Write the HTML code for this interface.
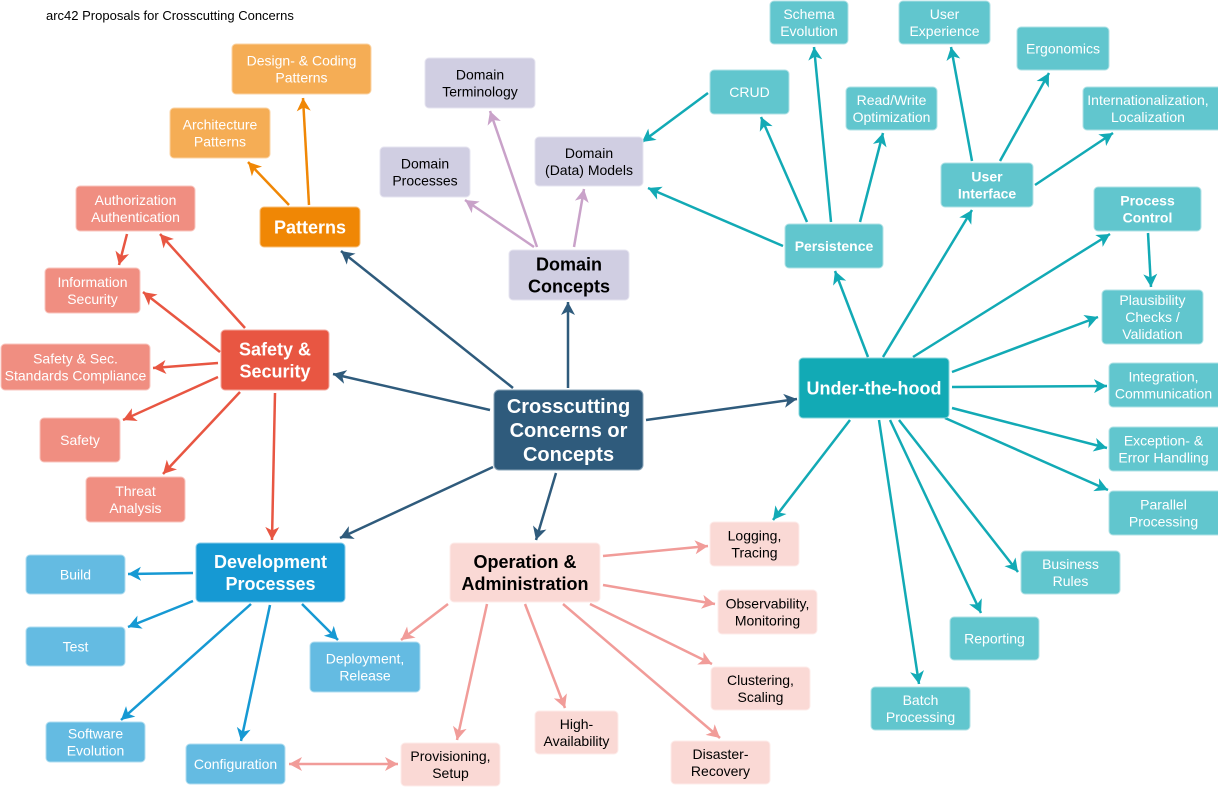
<!DOCTYPE html>
<html>
<head>
<meta charset="utf-8">
<style>
html,body{margin:0;padding:0;background:#fff;}
svg{display:block;}
text{font-family:"Liberation Sans",Arial,sans-serif;}
.t{font-size:14px;text-anchor:middle;fill:#fff;}
.k{font-size:14px;text-anchor:middle;fill:#000;}
.tb{font-size:14px;text-anchor:middle;fill:#fff;font-weight:bold;}
.m{font-size:18px;text-anchor:middle;fill:#fff;font-weight:bold;}
.mk{font-size:18px;text-anchor:middle;fill:#000;font-weight:bold;}
</style>
</head>
<body>
<svg width="1218" height="787" viewBox="0 0 1218 787" xmlns="http://www.w3.org/2000/svg">
<defs>
<marker id="aC" markerUnits="userSpaceOnUse" markerWidth="18" markerHeight="18" viewBox="-15 -9 18 18" refX="0" refY="0" orient="auto"><path d="M0,0 L-13,-7 L-9.5,0 L-13,7 Z" fill="#2f5b7c"/></marker>
<marker id="aP" markerUnits="userSpaceOnUse" markerWidth="18" markerHeight="18" viewBox="-15 -9 18 18" refX="0" refY="0" orient="auto"><path d="M0,0 L-13,-7 L-9.5,0 L-13,7 Z" fill="#f08705"/></marker>
<marker id="aD" markerUnits="userSpaceOnUse" markerWidth="18" markerHeight="18" viewBox="-15 -9 18 18" refX="0" refY="0" orient="auto"><path d="M0,0 L-13,-7 L-9.5,0 L-13,7 Z" fill="#c9a2c9"/></marker>
<marker id="aS" markerUnits="userSpaceOnUse" markerWidth="18" markerHeight="18" viewBox="-15 -9 18 18" refX="0" refY="0" orient="auto"><path d="M0,0 L-13,-7 L-9.5,0 L-13,7 Z" fill="#e85642"/></marker>
<marker id="aV" markerUnits="userSpaceOnUse" markerWidth="18" markerHeight="18" viewBox="-15 -9 18 18" refX="0" refY="0" orient="auto"><path d="M0,0 L-13,-7 L-9.5,0 L-13,7 Z" fill="#1699d3"/></marker>
<marker id="aO" markerUnits="userSpaceOnUse" markerWidth="18" markerHeight="18" viewBox="-15 -9 18 18" refX="0" refY="0" orient="auto"><path d="M0,0 L-13,-7 L-9.5,0 L-13,7 Z" fill="#f19c99"/></marker>
<marker id="aOs" markerUnits="userSpaceOnUse" markerWidth="18" markerHeight="18" viewBox="-15 -9 18 18" refX="0" refY="0" orient="auto-start-reverse"><path d="M0,0 L-13,-7 L-9.5,0 L-13,7 Z" fill="#f19c99"/></marker>
<marker id="aU" markerUnits="userSpaceOnUse" markerWidth="18" markerHeight="18" viewBox="-15 -9 18 18" refX="0" refY="0" orient="auto"><path d="M0,0 L-13,-7 L-9.5,0 L-13,7 Z" fill="#12aab5"/></marker>
</defs>

<text x="46" y="20" style="font-size:13px;fill:#000;">arc42 Proposals for Crosscutting Concerns</text>

<!-- edges -->
<g stroke-width="2.5" fill="none">
<g stroke="#2f5b7c">
<line x1="568" y1="388" x2="568" y2="302" marker-end="url(#aC)"/>
<line x1="513" y1="388" x2="341" y2="251" marker-end="url(#aC)"/>
<line x1="490" y1="410" x2="333" y2="374" marker-end="url(#aC)"/>
<line x1="493" y1="467" x2="340" y2="538" marker-end="url(#aC)"/>
<line x1="556" y1="473" x2="536" y2="540" marker-end="url(#aC)"/>
<line x1="646" y1="420" x2="797" y2="399" marker-end="url(#aC)"/>
</g>
<g stroke="#f08705">
<line x1="289" y1="205" x2="248" y2="162" marker-end="url(#aP)"/>
<line x1="309" y1="205" x2="303" y2="98" marker-end="url(#aP)"/>
</g>
<g stroke="#c9a2c9">
<line x1="534" y1="247" x2="465" y2="200" marker-end="url(#aD)"/>
<line x1="537" y1="247" x2="490" y2="111" marker-end="url(#aD)"/>
<line x1="574" y1="247" x2="584" y2="189" marker-end="url(#aD)"/>
</g>
<g stroke="#e85642">
<line x1="245" y1="328" x2="160" y2="234" marker-end="url(#aS)"/>
<line x1="127" y1="234" x2="119" y2="265" marker-end="url(#aS)"/>
<line x1="220" y1="352" x2="143" y2="292" marker-end="url(#aS)"/>
<line x1="218" y1="363" x2="153" y2="368" marker-end="url(#aS)"/>
<line x1="218" y1="377" x2="123" y2="420" marker-end="url(#aS)"/>
<line x1="240" y1="392" x2="163" y2="474" marker-end="url(#aS)"/>
<line x1="275" y1="393" x2="272" y2="540" marker-end="url(#aS)"/>
</g>
<g stroke="#1699d3">
<line x1="193" y1="573" x2="128" y2="574" marker-end="url(#aV)"/>
<line x1="193" y1="601" x2="128" y2="627" marker-end="url(#aV)"/>
<line x1="251" y1="604" x2="121" y2="720" marker-end="url(#aV)"/>
<line x1="270" y1="605" x2="241" y2="741" marker-end="url(#aV)"/>
<line x1="302" y1="604" x2="338" y2="640" marker-end="url(#aV)"/>
</g>
<g stroke="#f19c99">
<line x1="603" y1="556" x2="708" y2="546" marker-end="url(#aO)"/>
<line x1="603" y1="585" x2="715" y2="604" marker-end="url(#aO)"/>
<line x1="448" y1="604" x2="401" y2="640" marker-end="url(#aO)"/>
<line x1="487" y1="604" x2="457" y2="740" marker-end="url(#aO)"/>
<line x1="525" y1="604" x2="565" y2="708" marker-end="url(#aO)"/>
<line x1="563" y1="604" x2="720" y2="738" marker-end="url(#aO)"/>
<line x1="590" y1="604" x2="712" y2="664" marker-end="url(#aO)"/>
<line x1="289" y1="764" x2="398" y2="764" marker-start="url(#aOs)" marker-end="url(#aO)"/>
</g>
<g stroke="#12aab5">
<line x1="868" y1="357" x2="835" y2="271" marker-end="url(#aU)"/>
<line x1="883" y1="357" x2="972" y2="210" marker-end="url(#aU)"/>
<line x1="913" y1="357" x2="1110" y2="234" marker-end="url(#aU)"/>
<line x1="952" y1="372" x2="1098" y2="317" marker-end="url(#aU)"/>
<line x1="952" y1="387" x2="1107" y2="386" marker-end="url(#aU)"/>
<line x1="952" y1="408" x2="1107" y2="448" marker-end="url(#aU)"/>
<line x1="945" y1="418" x2="1108" y2="490" marker-end="url(#aU)"/>
<line x1="850" y1="420" x2="773" y2="520" marker-end="url(#aU)"/>
<line x1="879" y1="420" x2="919" y2="684" marker-end="url(#aU)"/>
<line x1="890" y1="420" x2="981" y2="613" marker-end="url(#aU)"/>
<line x1="899" y1="420" x2="1018" y2="572" marker-end="url(#aU)"/>
<line x1="783" y1="246" x2="648" y2="188" marker-end="url(#aU)"/>
<line x1="708" y1="93" x2="642" y2="142" marker-end="url(#aU)"/>
<line x1="807" y1="222" x2="761" y2="117" marker-end="url(#aU)"/>
<line x1="831" y1="222" x2="814" y2="47" marker-end="url(#aU)"/>
<line x1="860" y1="222" x2="883" y2="133" marker-end="url(#aU)"/>
<line x1="972" y1="161" x2="951" y2="47" marker-end="url(#aU)"/>
<line x1="1000" y1="161" x2="1049" y2="73" marker-end="url(#aU)"/>
<line x1="1035" y1="185" x2="1113" y2="133" marker-end="url(#aU)"/>
<line x1="1148" y1="233" x2="1151" y2="287" marker-end="url(#aU)"/>
</g>
</g>

<!-- nodes -->
<g stroke-width="1">
<rect x="232" y="44" width="139" height="50" rx="4" fill="#f5ad55" stroke="#fbd3a3"/>
<rect x="170" y="108" width="100" height="50" rx="4" fill="#f5ad55" stroke="#fbd3a3"/>
<rect x="260" y="207" width="100" height="40" rx="4" fill="#f08705" stroke="#f7c07d"/>
<rect x="425" y="58" width="110" height="50" rx="4" fill="#d0cee2" stroke="#e6e4f0"/>
<rect x="380" y="147" width="90" height="50" rx="4" fill="#d0cee2" stroke="#e6e4f0"/>
<rect x="535" y="137" width="108" height="49" rx="4" fill="#d0cee2" stroke="#e6e4f0"/>
<rect x="509" y="250" width="120" height="50" rx="4" fill="#d0cee2" stroke="#e6e4f0"/>
<rect x="76" y="186" width="119" height="45" rx="4" fill="#f08e81" stroke="#f8c6bf"/>
<rect x="45" y="268" width="95" height="45" rx="4" fill="#f08e81" stroke="#f8c6bf"/>
<rect x="1" y="344" width="149" height="46" rx="4" fill="#f08e81" stroke="#f8c6bf"/>
<rect x="40" y="418" width="80" height="44" rx="4" fill="#f08e81" stroke="#f8c6bf"/>
<rect x="86" y="477" width="99" height="45" rx="4" fill="#f08e81" stroke="#f8c6bf"/>
<rect x="221" y="330" width="108" height="60" rx="4" fill="#e85642" stroke="#f3a99f"/>
<rect x="494" y="390" width="149" height="80" rx="5" fill="#2f5b7c" stroke="#8aa4b8"/>
<rect x="196" y="543" width="149" height="59" rx="4" fill="#1699d3" stroke="#8accea"/>
<rect x="26" y="555" width="99" height="39" rx="4" fill="#64bbe2" stroke="#b1ddf0"/>
<rect x="26" y="627" width="99" height="39" rx="4" fill="#64bbe2" stroke="#b1ddf0"/>
<rect x="46" y="722" width="99" height="40" rx="4" fill="#64bbe2" stroke="#b1ddf0"/>
<rect x="186" y="744" width="99" height="40" rx="4" fill="#64bbe2" stroke="#b1ddf0"/>
<rect x="310" y="642" width="110" height="50" rx="4" fill="#64bbe2" stroke="#b1ddf0"/>
<rect x="450" y="543" width="150" height="59" rx="4" fill="#fad9d5" stroke="#fdecea"/>
<rect x="710" y="522" width="89" height="44" rx="4" fill="#fad9d5" stroke="#fdecea"/>
<rect x="718" y="590" width="99" height="44" rx="4" fill="#fad9d5" stroke="#fdecea"/>
<rect x="711" y="667" width="99" height="43" rx="4" fill="#fad9d5" stroke="#fdecea"/>
<rect x="535" y="711" width="83" height="43" rx="4" fill="#fad9d5" stroke="#fdecea"/>
<rect x="671" y="741" width="99" height="43" rx="4" fill="#fad9d5" stroke="#fdecea"/>
<rect x="401" y="743" width="99" height="43" rx="4" fill="#fad9d5" stroke="#fdecea"/>
<rect x="799" y="358" width="150" height="60" rx="4" fill="#12aab5" stroke="#88d4da"/>
<rect x="785" y="224" width="98" height="44" rx="4" fill="#61c6ce" stroke="#b0e2e6"/>
<rect x="710" y="70" width="79" height="44" rx="4" fill="#61c6ce" stroke="#b0e2e6"/>
<rect x="770" y="1" width="78" height="43" rx="4" fill="#61c6ce" stroke="#b0e2e6"/>
<rect x="846" y="87" width="91" height="43" rx="4" fill="#61c6ce" stroke="#b0e2e6"/>
<rect x="941" y="163" width="92" height="44" rx="4" fill="#61c6ce" stroke="#b0e2e6"/>
<rect x="899" y="1" width="91" height="43" rx="4" fill="#61c6ce" stroke="#b0e2e6"/>
<rect x="1017" y="27" width="92" height="43" rx="4" fill="#61c6ce" stroke="#b0e2e6"/>
<rect x="1083" y="87" width="140" height="43" rx="4" fill="#61c6ce" stroke="#b0e2e6"/>
<rect x="1094" y="187" width="107" height="44" rx="4" fill="#61c6ce" stroke="#b0e2e6"/>
<rect x="1102" y="290" width="101" height="54" rx="4" fill="#61c6ce" stroke="#b0e2e6"/>
<rect x="1109" y="363" width="115" height="44" rx="4" fill="#61c6ce" stroke="#b0e2e6"/>
<rect x="1109" y="427" width="115" height="44" rx="4" fill="#61c6ce" stroke="#b0e2e6"/>
<rect x="1109" y="491" width="115" height="44" rx="4" fill="#61c6ce" stroke="#b0e2e6"/>
<rect x="1021" y="551" width="99" height="43" rx="4" fill="#61c6ce" stroke="#b0e2e6"/>
<rect x="950" y="617" width="89" height="43" rx="4" fill="#61c6ce" stroke="#b0e2e6"/>
<rect x="871" y="687" width="99" height="43" rx="4" fill="#61c6ce" stroke="#b0e2e6"/>
</g>

<!-- labels -->
<text class="t" x="301.5" y="65.5">Design- &amp; Coding</text>
<text class="t" x="301.5" y="82.5">Patterns</text>
<text class="t" x="220" y="129.5">Architecture</text>
<text class="t" x="220" y="146.5">Patterns</text>
<text class="m" x="310" y="233.5">Patterns</text>

<text class="k" x="480" y="79.5">Domain</text>
<text class="k" x="480" y="96.5">Terminology</text>
<text class="k" x="425" y="168.5">Domain</text>
<text class="k" x="425" y="185.5">Processes</text>
<text class="k" x="589" y="158">Domain</text>
<text class="k" x="589" y="175">(Data) Models</text>
<text class="mk" x="569" y="270.5">Domain</text>
<text class="mk" x="569" y="292.5">Concepts</text>

<text class="t" x="135.5" y="205">Authorization</text>
<text class="t" x="135.5" y="222">Authentication</text>
<text class="t" x="92.5" y="287">Information</text>
<text class="t" x="92.5" y="304">Security</text>
<text class="t" x="75.5" y="363.5">Safety &amp; Sec.</text>
<text class="t" x="75.5" y="380.5">Standards Compliance</text>
<text class="t" x="80" y="445">Safety</text>
<text class="t" x="135.5" y="496">Threat</text>
<text class="t" x="135.5" y="513">Analysis</text>
<text class="m" x="275" y="355.5">Safety &amp;</text>
<text class="m" x="275" y="377.5">Security</text>

<text x="568.5" y="413" style="font-size:20px;font-weight:bold;fill:#fff;text-anchor:middle;">Crosscutting</text>
<text x="568.5" y="437" style="font-size:20px;font-weight:bold;fill:#fff;text-anchor:middle;">Concerns or</text>
<text x="568.5" y="461" style="font-size:20px;font-weight:bold;fill:#fff;text-anchor:middle;">Concepts</text>

<text class="m" x="270.5" y="568">Development</text>
<text class="m" x="270.5" y="590">Processes</text>
<text class="t" x="75.5" y="579.5">Build</text>
<text class="t" x="75.5" y="651.5">Test</text>
<text class="t" x="95.5" y="738.5">Software</text>
<text class="t" x="95.5" y="755.5">Evolution</text>
<text class="t" x="235.5" y="769">Configuration</text>
<text class="t" x="365" y="663.5">Deployment,</text>
<text class="t" x="365" y="680.5">Release</text>

<text class="mk" x="525" y="568">Operation &amp;</text>
<text class="mk" x="525" y="590">Administration</text>
<text class="k" x="754.5" y="540.5">Logging,</text>
<text class="k" x="754.5" y="557.5">Tracing</text>
<text class="k" x="767.5" y="608.5">Observability,</text>
<text class="k" x="767.5" y="625.5">Monitoring</text>
<text class="k" x="760.5" y="685">Clustering,</text>
<text class="k" x="760.5" y="702">Scaling</text>
<text class="k" x="576.5" y="729">High-</text>
<text class="k" x="576.5" y="746">Availability</text>
<text class="k" x="720.5" y="759">Disaster-</text>
<text class="k" x="720.5" y="776">Recovery</text>
<text class="k" x="450.5" y="761">Provisioning,</text>
<text class="k" x="450.5" y="778">Setup</text>

<text class="m" x="874" y="394.5">Under-the-hood</text>
<text class="tb" x="834" y="251">Persistence</text>
<text class="t" x="749.5" y="97">CRUD</text>
<text class="t" x="809" y="19">Schema</text>
<text class="t" x="809" y="36">Evolution</text>
<text class="t" x="891.5" y="105">Read/Write</text>
<text class="t" x="891.5" y="122">Optimization</text>
<text class="tb" x="987" y="181.5">User</text>
<text class="tb" x="987" y="198.5">Interface</text>
<text class="t" x="944.5" y="19">User</text>
<text class="t" x="944.5" y="36">Experience</text>
<text class="t" x="1063" y="53.5">Ergonomics</text>
<text class="t" x="1148" y="105">Internationalization,</text>
<text class="t" x="1148" y="122">Localization</text>
<text class="tb" x="1147.5" y="205.5">Process</text>
<text class="tb" x="1147.5" y="222.5">Control</text>
<text class="t" x="1152.5" y="305">Plausibility</text>
<text class="t" x="1152.5" y="322">Checks /</text>
<text class="t" x="1152.5" y="339">Validation</text>
<text class="t" x="1163.5" y="381.5">Integration,</text>
<text class="t" x="1163.5" y="398.5">Communication</text>
<text class="t" x="1163.5" y="445.5">Exception- &amp;</text>
<text class="t" x="1163.5" y="462.5">Error Handling</text>
<text class="t" x="1163.5" y="509.5">Parallel</text>
<text class="t" x="1163.5" y="526.5">Processing</text>
<text class="t" x="1070.5" y="569">Business</text>
<text class="t" x="1070.5" y="586">Rules</text>
<text class="t" x="994.5" y="643.5">Reporting</text>
<text class="t" x="920.5" y="705">Batch</text>
<text class="t" x="920.5" y="722">Processing</text>
</svg>
</body>
</html>
